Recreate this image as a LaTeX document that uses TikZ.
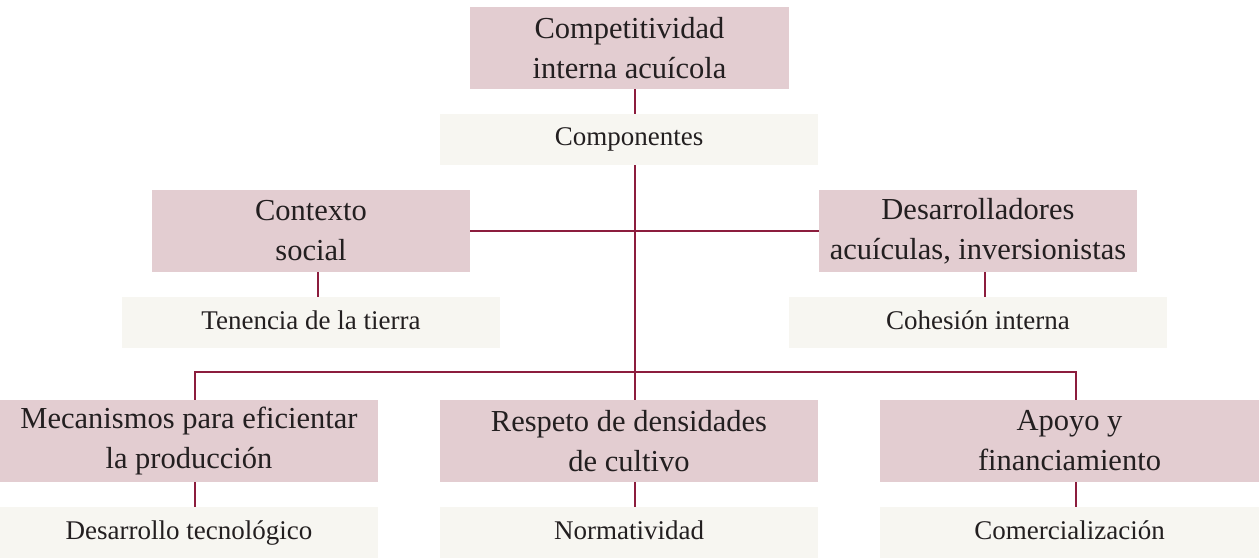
\documentclass[tikz,border=0pt]{standalone}
\usepackage{fontspec}
\setmainfont{Liberation Serif}
\definecolor{pinkbox}{HTML}{E3CDD1}
\definecolor{lightbox}{HTML}{F7F6F1}
\definecolor{linkc}{HTML}{8C1D3D}
\definecolor{txt}{HTML}{231F20}
\begin{document}
\begin{tikzpicture}[x=1pt,y=-1pt,
  mainbox/.style={fill=pinkbox,inner sep=0pt,minimum height=82pt,align=center,text=txt,
    font=\fontsize{30.5}{40}\selectfont},
  subbox/.style={fill=lightbox,inner sep=0pt,minimum height=51pt,align=center,text=txt,
    text height=20pt,text depth=7pt,
    font=\fontsize{27}{32}\selectfont},
  link/.style={draw=linkc,line width=1.4pt}]
\useasboundingbox (0,0) rectangle (1259,559);
\node[mainbox,minimum width=319pt] (top) at (629.5,48) {Competitividad\\interna acuícola};
\node[subbox,minimum width=378pt] (comp) at (629,139.5) {Componentes};
\node[mainbox,minimum width=318pt] (ctx) at (311,231) {Contexto\\social};
\node[mainbox,minimum width=318pt] (des) at (978,231) {Desarrolladores\\acuículas, inversionistas};
\node[subbox,minimum width=378pt] (ten) at (311,322.5) {Tenencia de la tierra};
\node[subbox,minimum width=378pt] (coh) at (978,322.5) {Cohesión interna};
\node[mainbox,minimum width=378pt] (mec) at (189,441) {Mecanismos para eficientar\\la producción};
\node[mainbox,minimum width=378pt] (res) at (629,441) {Respeto de densidades\\de cultivo};
\node[mainbox,minimum width=379pt] (apo) at (1069.5,441) {Apoyo y\\financiamiento};
\node[subbox,minimum width=378pt] (dtec) at (189,532.5) {Desarrollo tecnológico};
\node[subbox,minimum width=378pt] (nor) at (629,532.5) {Normatividad};
\node[subbox,minimum width=379pt] (com) at (1069.5,532.5) {Comercialización};
\coordinate (hy) at (635,372);
\draw[link] ([xshift=5.5pt]top.south) -- ([xshift=5.5pt]top.south |- comp.north);
\draw[link] ([xshift=6pt]comp.south) -- ([xshift=6pt]comp.south |- res.north);
\draw[link] (ctx.east) -- (des.west);
\draw[link] ([xshift=7pt]ctx.south) -- ([xshift=7pt]ctx.south |- ten.north);
\draw[link] ([xshift=7pt]des.south) -- ([xshift=7pt]des.south |- coh.north);
\draw[link] ([xshift=6pt]mec.north) |- (hy) -| ([xshift=6.5pt]apo.north);
\draw[link] ([xshift=6pt]mec.south) -- ([xshift=6pt]mec.south |- dtec.north);
\draw[link] ([xshift=6pt]res.south) -- ([xshift=6pt]res.south |- nor.north);
\draw[link] ([xshift=6.5pt]apo.south) -- ([xshift=6.5pt]apo.south |- com.north);
\end{tikzpicture}
\end{document}
